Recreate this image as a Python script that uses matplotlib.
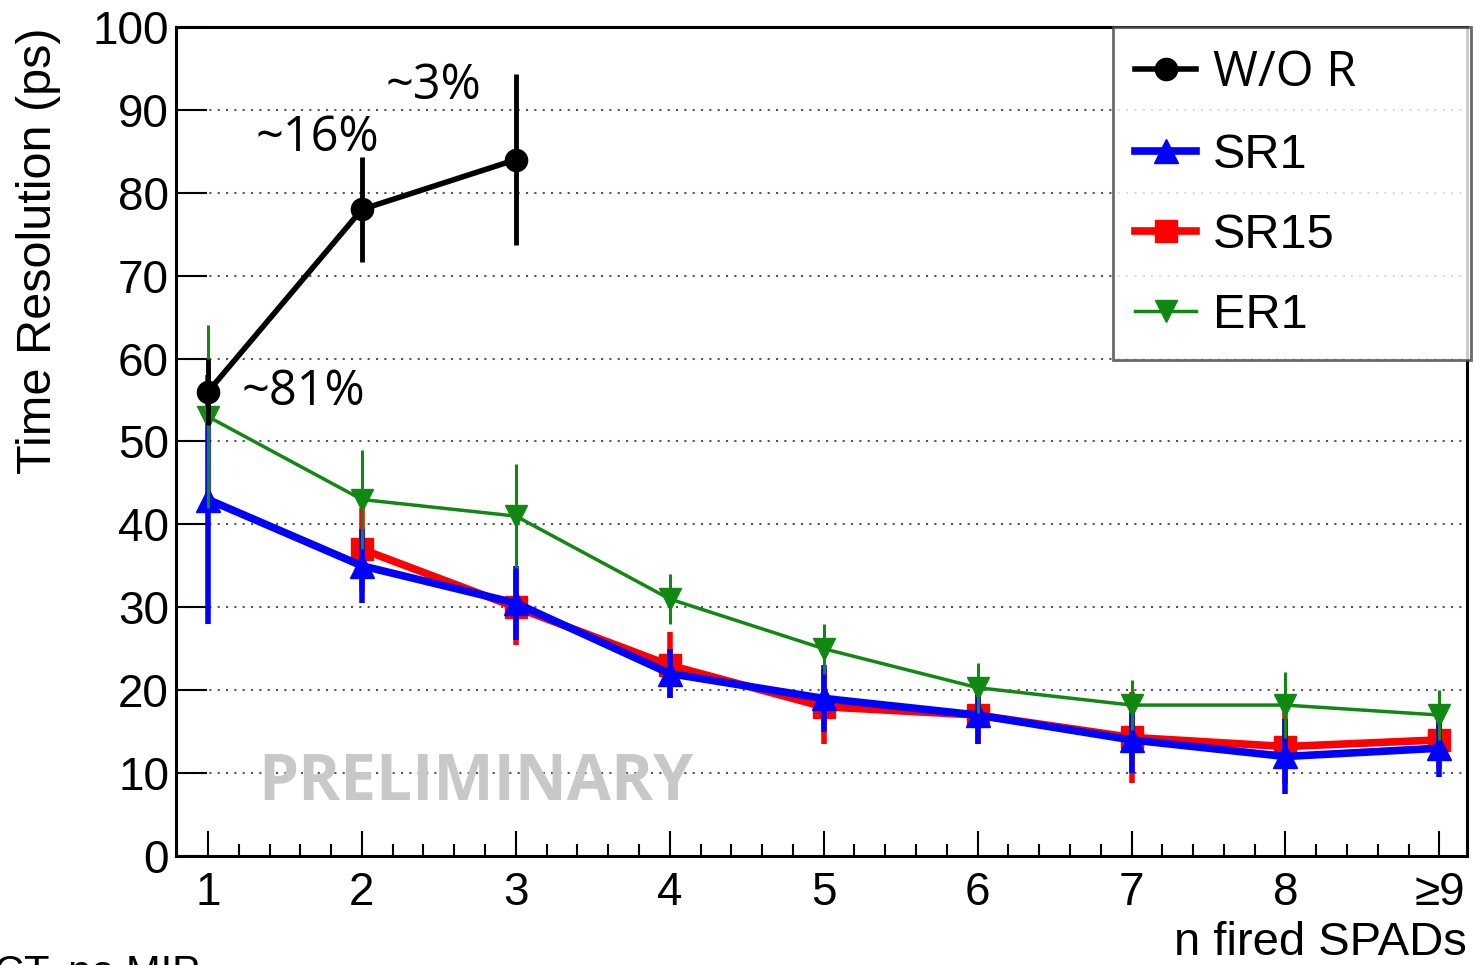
import numpy as np
import matplotlib.pyplot as plt

plt.rcParams['font.family'] = ['Liberation Sans', 'DejaVu Sans']

# n fired SPADs (last bin is >=9)
n_spads = [1, 2, 3, 4, 5, 6, 7, 8, 9]
tick_labels = ['1', '2', '3', '4', '5', '6', '7', '8', '\u22659']

# W/O R
x_wor = [1, 2, 3]
res_wor = [56, 78, 84]
err_wor = [4, 6.3, 10.3]

# SR1
res_sr1 = [43, 35, 30.5, 22, 19, 17, 14, 12, 13]
err_sr1 = [15, 4.5, 4.5, 3, 4, 3.5, 4, 4.5, 3.5]

# SR15
x_sr15 = [2, 3, 4, 5, 6, 7, 8, 9]
res_sr15 = [37, 30, 23, 18, 17, 14.3, 13.2, 14]
err_sr15 = [5, 4.5, 4, 4.5, 3.5, 5.5, 4.5, 3.5]

# ER1
res_er1 = [53, 43, 41, 31, 25, 20.3, 18.2, 18.2, 17]
err_er1 = [11, 6, 6.3, 3, 3, 3, 3, 4, 3]

fig = plt.figure(figsize=(14.74, 9.65), dpi=100)
ax = fig.add_axes([0.1194, 0.1130, 0.8759, 0.859])

ax.errorbar(x_sr15, res_sr15, yerr=err_sr15, fmt='-s', color='#ff0000', lw=5.5,
            elinewidth=4, ms=16, capsize=0, label='SR15', zorder=3)
ax.errorbar(n_spads, res_sr1, yerr=err_sr1, fmt='-^', color='#0000ff', lw=5.5,
            elinewidth=4, ms=17, capsize=0, label='SR1', zorder=4)
ax.errorbar(n_spads, res_er1, yerr=err_er1, fmt='-v', color='#118811', lw=2.5,
            elinewidth=2.2, ms=16, capsize=0, label='ER1', zorder=5)
ax.errorbar(x_wor, res_wor, yerr=err_wor, fmt='-o', color='black', lw=4,
            elinewidth=3.5, ms=16, capsize=0, label='W/O R', zorder=6)

ax.set_xlim(0.792, 9.18)
ax.set_ylim(0, 100)
ax.set_xticks(n_spads)
ax.set_xticklabels(tick_labels)
ax.set_xticks(np.arange(0.8, 9.2, 0.2), minor=True)
ax.set_yticks(np.arange(0, 101, 10))
ax.tick_params(axis='both', which='major', direction='in', labelsize=33, width=1.5, color='black')
ax.tick_params(axis='x', which='major', length=18, pad=11)
ax.tick_params(axis='y', which='major', length=22, pad=5)
ax.tick_params(axis='x', which='minor', direction='in', length=9, width=1.5)
ax.tick_params(top=False, right=False)
for s in ax.spines.values():
    s.set_linewidth(2.2)
ax.yaxis.grid(True, linestyle=(0, (1, 3)), color='#555555', lw=1.5)
ax.set_axisbelow(True)

ax.set_ylabel('Time Resolution (ps)', fontsize=35)
ax.yaxis.set_label_coords(-0.089, 0.73)
ax.set_xlabel('n fired SPADs', fontsize=34, ha='right', x=1.0, labelpad=4)

# annotations
ax.text(1.22, 56, '~81%', fontsize=35, family='Open Sans', va='center')
ax.text(1.31, 86.6, '~16%', fontsize=35, family='Open Sans', va='center')
ax.text(2.15, 92.9, '~3%', fontsize=35, family='Open Sans', va='center')
ax.text(1.325, 8.8, 'PRELIMINARY', fontsize=46, family='Open Sans', weight='bold',
        color='#c8c8c8', va='center', zorder=2)

handles, labels = ax.get_legend_handles_labels()
order = [3, 1, 0, 2]
leg = ax.legend([handles[i][0] for i in order], [labels[i] for i in order],
                loc='upper left', bbox_to_anchor=(0.726, 0.0, 0.277, 1.0), mode='expand',
                fontsize=35, frameon=True, fancybox=False, edgecolor='#444444',
                handlelength=1.25, handletextpad=0.35, labelspacing=0.72,
                borderpad=0.45, borderaxespad=0)
leg.get_frame().set_linewidth(2)
leg.get_texts()[0].set_fontfamily('Open Sans')
leg.set_zorder(10)

fig.text(-0.004, 0.0124, 'CT, no MIP', fontsize=30, va='top', ha='left')

fig.savefig('out.png', dpi=100)
